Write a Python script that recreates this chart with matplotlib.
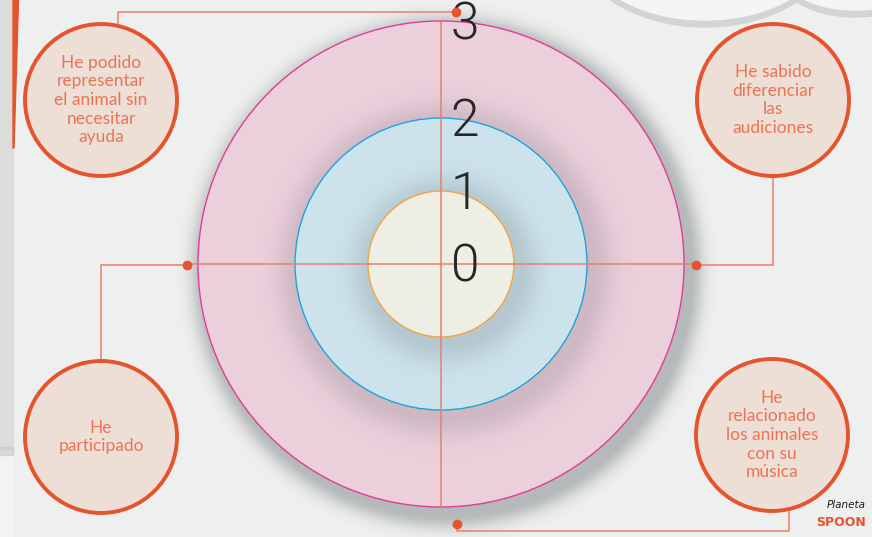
import numpy as np
import matplotlib
matplotlib.use("Agg")
import matplotlib.pyplot as plt
from matplotlib.patches import Circle, Ellipse, Polygon, Rectangle

# ---------------- data ----------------
levels = ["0", "1", "2", "3"]
level_radius = [0, 73, 146, 243]          # radius of each level on the target scale
ring_fill = ["#EEEEE4", "#CDE3EC", "#EBD0DC"]
ring_edge = ["#F0A640", "#1FA3DC", "#DF3D96"]
criteria = [
    "He podido\nrepresentar\nel animal sin\nnecesitar\nayuda",
    "He sabido\ndiferenciar\nlas\naudiciones",
    "He\nparticipado",
    "He\nrelacionado\nlos animales\ncon su\nmúsica",
]

W, H = 872, 537
cx, cy = 441, 264
BG = "#EEF0EF"
ORANGE = "#E5532F"
LINE = "#E8806A"

fig = plt.figure(figsize=(W / 100, H / 100), dpi=100)
ax = fig.add_axes([0, 0, 1, 1])
ax.set_xlim(0, W)
ax.set_ylim(H, 0)
ax.axis("off")
fig.patch.set_facecolor(BG)

yy, xx = np.mgrid[0:H, 0:W] + 0.5


def shadow(x0, y0, r, dx, dy, blur, strength, z, clip=None, color=(0.25, 0.27, 0.28)):
    d = np.hypot(xx - (x0 + dx), yy - (y0 + dy)) - r
    a = np.where(d < 0, 1.0, np.exp(-(d / blur) ** 2)) * strength
    img = np.zeros((H, W, 4))
    img[..., 0], img[..., 1], img[..., 2] = color
    img[..., 3] = a
    im = ax.imshow(img, extent=(0, W, H, 0), zorder=z, interpolation="bilinear")
    if clip is not None:
        im.set_clip_path(clip)
    return im


# left page edge
ax.add_patch(Rectangle((0, 0), 13, 450, color="#DCDCDC", zorder=1))
ax.add_patch(Rectangle((0, 450), 13, 87, color="#F3F3F3", zorder=1))
ax.add_patch(Rectangle((0, 447), 13, 8, color="#C8C8C8", zorder=1, alpha=0.6))
ax.add_patch(Polygon([(13, 0), (18.5, 0), (14, 148), (13, 148)], color=ORANGE, zorder=2))

# cloud at top right
cloud_sh = [Ellipse((705, -58), 250, 156), Ellipse((855, -30), 150, 80)]
for e in cloud_sh:
    ax.add_patch(Ellipse((e.center[0], e.center[1] + 3), e.width + 4, e.height + 8,
                         color="#D3D5D5", zorder=1))
for e in cloud_sh:
    ax.add_patch(Ellipse(e.center, e.width, e.height, color="#F4F5F5", zorder=1.5))

# shadow of the big circle
shadow(cx, cy, level_radius[3], 6, 8, 14, 0.32, 2)

# rings from outer to inner, each casting a shadow onto the one below
order = [3, 2, 1]
z = 3
prev = None
for k in order:
    r = level_radius[k]
    if prev is not None:
        shadow(cx, cy, r, 4, 6, 22, 0.17, z, clip=prev)
        z += 1
    c = Circle((cx, cy), r, facecolor=ring_fill[k - 1], edgecolor=ring_edge[k - 1], lw=1.0, zorder=z + 0.5)
    ax.add_patch(c)
    prev = Circle((cx, cy), r, transform=ax.transData)
    z += 1

# cross lines
ax.plot([187, 696], [cy, cy], color=LINE, lw=1.1, zorder=20)
ax.plot([cx, cx], [cy - level_radius[3], cy + level_radius[3]], color=LINE, lw=1.1, zorder=20)

# level numbers
for lab, r in zip(levels, level_radius):
    ax.text(465, cy - r + 18, lab, ha="center", va="baseline", fontsize=37,
            family=["Roboto", "DejaVu Sans"], fontweight=300, color="#262626", zorder=21)

# bubbles
bubbles = [(101, 100), (773, 100), (101, 437), (772, 435)]
br = 76
# connectors
conn = [
    [(456, 12), (118, 12), (118, 25)],
    [(696, 265), (773, 265), (773, 176)],
    [(187, 265), (101, 265), (101, 361)],
    [(457, 524), (457, 531), (789, 531), (789, 510)],
]
for pts in conn:
    xs, ys = zip(*pts)
    ax.plot(xs, ys, color=LINE, lw=1.1, zorder=19, solid_joinstyle="miter")
for (x, y) in [(456, 12), (696, 265), (187, 265), (457, 524)]:
    ax.plot(x, y, "o", ms=6, color=ORANGE, zorder=22)

for (bx, by), txt in zip(bubbles, criteria):
    ax.add_patch(Circle((bx, by), br, facecolor="#EEDFD6", edgecolor=ORANGE, lw=2.8, zorder=23))
    ax.text(bx, by, txt, ha="center", va="center", fontsize=12.5, linespacing=1.2,
            family=["Lato", "DejaVu Sans"], fontweight="normal", color="#EA7456", zorder=24)

# logo
ax.text(827, 505, "Planeta", fontsize=7.5, style="italic", color="#1E1E1E",
        family=["DejaVu Sans"], ha="left", va="center", zorder=25)
ax.text(816, 523, "SPOON", fontsize=9, fontweight="bold", color=ORANGE,
        family=["DejaVu Sans"], ha="left", va="center", zorder=25)

fig.savefig("out.png", dpi=100, facecolor=BG)
